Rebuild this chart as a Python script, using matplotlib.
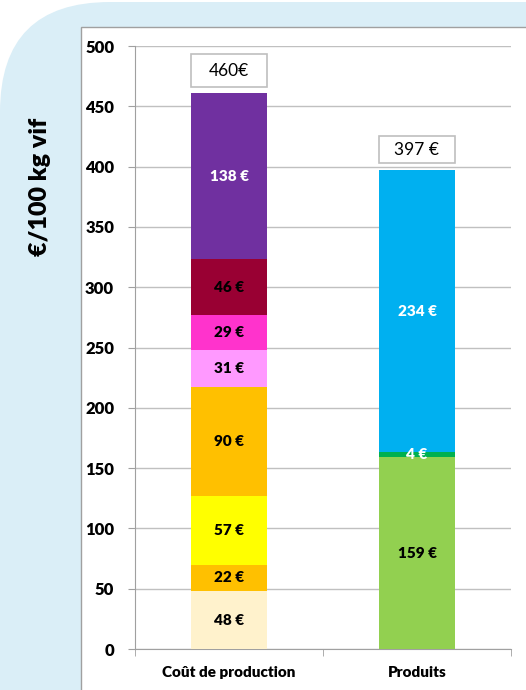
import matplotlib
matplotlib.use("Agg")
import matplotlib.pyplot as plt
from matplotlib.patches import FancyBboxPatch, Rectangle

plt.rcParams['font.family'] = ['Lato', 'DejaVu Sans']

# données
categories = ["Coût de production", "Produits"]
cout_values = [48, 22, 57, 90, 31, 29, 46, 138]
cout_colors = ["#FFF2CC", "#FFC000", "#FFFF00", "#FFC000", "#FF99FF", "#FF33CC", "#990033", "#7030A0"]
cout_text = ["black"] * 7 + ["white"]
produits_values = [159, 4, 234]
produits_colors = ["#92D050", "#00B050", "#00B0F0"]
produits_text = ["black", "white", "white"]
totals = [460, 397]
total_labels = ["460€", "397 €"]
yticks = [0, 50, 100, 150, 200, 250, 300, 350, 400, 450, 500]

W, H = 526, 690
fig = plt.figure(figsize=(W / 100, H / 100), dpi=100)
fig.patch.set_facecolor("white")

# fond bleu arrondi + panneau blanc
bg = fig.add_axes([0, 0, 1, 1], zorder=0)
bg.set_xlim(0, W)
bg.set_ylim(H, 0)
bg.axis("off")
bg.add_patch(FancyBboxPatch((0, 2), 700, 900, boxstyle="round,pad=0,rounding_size=110",
                            fc="#DAEEF7", ec="none"))
bg.add_patch(Rectangle((81, 27), 600, 800, fc="white", ec="#A0A0A0", lw=1))

ax = fig.add_axes([135 / W, 1 - 649 / H, (511 - 135) / W, (649 - 46) / H], zorder=1)
ax.set_facecolor("none")

width = 0.4
stacks = [(cout_values, cout_colors, cout_text), (produits_values, produits_colors, produits_text)]
for i, (vals, cols, tcols) in enumerate(stacks):
    bottom = 0
    for v, c, tc in zip(vals, cols, tcols):
        ax.bar(i, v, width, bottom=bottom, color=c, zorder=3)
        ax.text(i, bottom + v / 2, f"{v} €", ha="center", va="center",
                fontsize=11, fontweight="heavy", color=tc, zorder=4)
        bottom += v

# étiquettes des totaux dans un cadre
box_h = [27, 22]
for i, (t, lab) in enumerate(zip(totals, total_labels)):
    ax.add_patch(Rectangle((i - 0.2, t + 6), 0.4, box_h[i], fc="white", ec="#BFBFBF",
                           lw=1.2, zorder=3, clip_on=False))
    ax.text(i, t + 6 + box_h[i] / 2, lab, ha="center", va="center", fontsize=12.5, zorder=4)

ax.set_xlim(-0.5, 1.5)
ax.set_ylim(0, 500)
ax.set_yticks(yticks)
ax.set_xticks(range(len(categories)))
ax.set_xticklabels(categories, fontsize=11, fontweight="heavy")
ax.set_xticks([-0.5, 0.5, 1.5], minor=True)
for lab in ax.get_yticklabels():
    lab.set_fontweight("heavy")
    lab.set_fontsize(12)
ax.tick_params(axis="x", which="major", length=0, pad=12)
ax.tick_params(axis="x", which="minor", length=5, color="#A0A0A0")
ax.tick_params(axis="y", length=5, color="#A0A0A0", pad=10)
ax.grid(axis="y", color="#C0C0C0", lw=1, zorder=0)
for s in ["top", "right"]:
    ax.spines[s].set_visible(False)
for s in ["left", "bottom"]:
    ax.spines[s].set_color("#A0A0A0")

fig.text(40 / W, 1 - 187 / H, "€/100 kg vif", rotation=90, ha="center", va="center",
         fontsize=18, fontweight="heavy")

fig.savefig("out.png", dpi=100)
